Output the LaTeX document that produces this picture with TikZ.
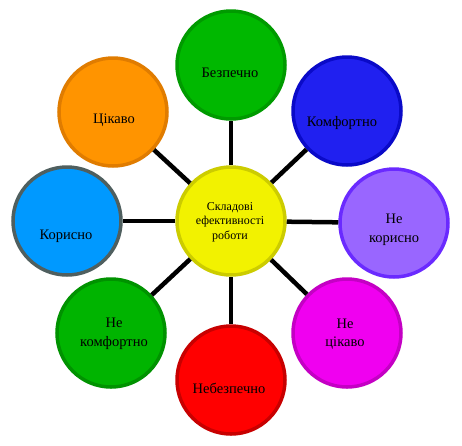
\documentclass[tikz,border=0pt]{standalone}
\usepackage{fontspec}
\setmainfont{Liberation Serif}
\begin{document}
\begin{tikzpicture}[x=1pt,y=-1pt,
  circ/.style={circle,minimum size=108pt,inner sep=0pt,line width=3.5pt},
  lbl/.style={font=\fontsize{14.5}{18.5}\selectfont,align=center,inner sep=0pt},
  clbl/.style={font=\fontsize{12}{14.5}\selectfont,align=center,inner sep=0pt},
  spoke/.style={line width=4.5pt,black}]
\useasboundingbox (0,0) rectangle (462,445);
\definecolor{yF}{HTML}{F2F200}\definecolor{yB}{HTML}{CCCC00}
\definecolor{gF}{HTML}{00B800}\definecolor{gB}{HTML}{009A00}
\definecolor{bF}{HTML}{2020F0}\definecolor{bB}{HTML}{0A0AC8}
\definecolor{vF}{HTML}{9966FF}\definecolor{vB}{HTML}{6A2AFF}
\definecolor{cF}{HTML}{0099FF}\definecolor{cB}{HTML}{4F5F5F}
\definecolor{rF}{HTML}{FF0000}\definecolor{rB}{HTML}{C80000}
\definecolor{mF}{HTML}{F000F0}\definecolor{mB}{HTML}{C400C4}
\definecolor{oF}{HTML}{FF9400}\definecolor{oB}{HTML}{E07C00}
\definecolor{g2F}{HTML}{00B400}\definecolor{g2B}{HTML}{009200}
% circles
\node[circ,fill=yF,draw=yB] (c) at (231,221) {};
\node[circ,fill=gF,draw=gB] (s1) at (231,65) {};
\node[circ,fill=bF,draw=bB] (s2) at (347,111) {};
\node[circ,fill=vF,draw=vB] (s3) at (394,223) {};
\node[circ,fill=rF,draw=rB] (s5) at (231,380) {};
\node[circ,fill=mF,draw=mB] (s4) at (347,333) {};
\node[circ,fill=g2F,draw=g2B] (s6) at (111,333) {};
\node[circ,fill=cF,draw=cB] (s7) at (67,221) {};
\node[circ,fill=oF,draw=oB] (s8) at (113,112) {};
% spokes
\foreach \s in {s1,s2,s3,s4,s5,s6,s7,s8}{\draw[spoke] (c) -- (\s);}
% labels
\node[clbl] (tc) at (230,222) {Складові\\ефективності\\роботи};
\node[lbl] (t1) at (230,73) {Безпечно};
\node[lbl] (t2) at (342,123) {Комфортно};
\node[lbl] (t3) at (394,230) {Не\\корисно};
\node[lbl] (t4) at (345,334) {Не\\цікаво};
\node[lbl] (t5) at (229,388) {Небезпечно};
\node[lbl] (t6) at (114,334) {Не\\комфортно};
\node[lbl] (t7) at (66,236) {Корисно};
\node[lbl] (t8) at (114,120) {Цікаво};
\end{tikzpicture}
\end{document}
